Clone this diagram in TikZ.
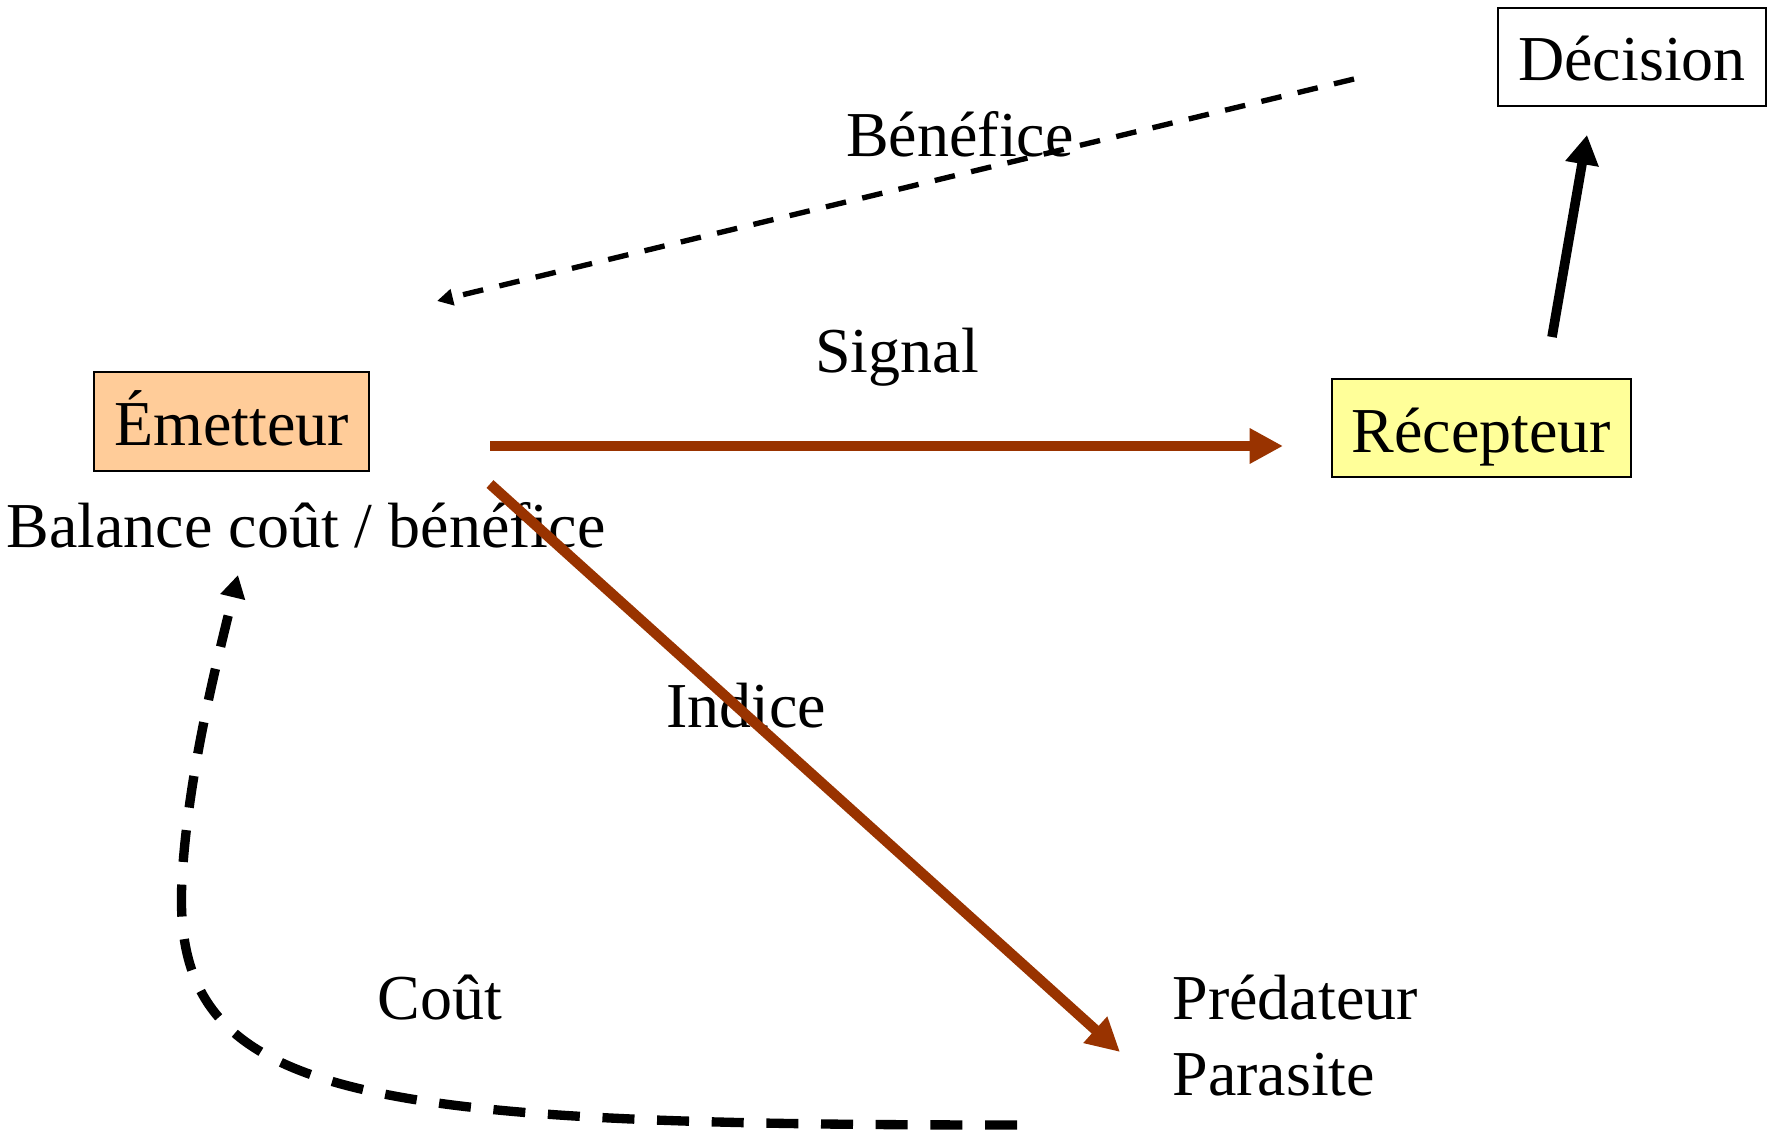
\documentclass[tikz,border=0pt]{standalone}
\usepackage{fontspec}
\setmainfont{Liberation Serif}
\usetikzlibrary{arrows.meta}
\definecolor{brique}{RGB}{153,51,0}
\definecolor{peche}{RGB}{255,204,153}
\definecolor{jaune}{RGB}{255,255,153}
\tikzset{every picture/.style={line width=0.75pt}}
\tikzset{
  grand/.style={font=\fontsize{48}{56}\selectfont},
  boite/.style={draw, line width=1.1pt, inner sep=0pt, grand, text height=45.6pt, text depth=9.6pt},
  texte/.style={inner sep=0pt, anchor=base, grand},
  fleche brique/.style={brique, line width=7.8pt, -{Triangle[length=25pt,width=25pt]}},
  fleche noire/.style={black, line width=7.2pt, -{Triangle[length=22pt,width=24pt]}},
  tirets fins/.style={black, line width=4pt, dash pattern=on 15.5pt off 12.5pt, -{Triangle[length=12pt,width=12pt]}},
  tirets gros/.style={black, line width=7pt, dash pattern=on 24pt off 17pt, -{Triangle[length=17pt,width=18pt]}}
}
\begin{document}
\begin{tikzpicture}[x=0.75pt,y=0.75pt,yscale=-1,xscale=1]
\useasboundingbox (0,0) rectangle (1780,1134);

% Boxes
\node[boite, fill=peche, minimum width=206pt, minimum height=74pt] (emet) at (231.5,421.5) {Émetteur};
\node[boite, fill=jaune, minimum width=224pt, minimum height=73.5pt] (recep) at (1481.5,428) {Récepteur};
\node[boite, minimum width=201pt, minimum height=73.5pt] (decis) at (1632,57) {Décision};

% Text Node
\node[texte] (balance) at (306,547) {Balance coût / bénéfice};
\node[texte] (signal) at (897,372) {Signal};
\node[texte] (benefice) at (960,157) {Bénéfice};
\node[texte] (indice) at (746,727) {Indice};
\node[texte] (cout) at (440,1019) {Coût};
\node[texte, anchor=base west] (predateur) at (1172,1019) {Prédateur};
\node[texte, anchor=base west] (parasite) at (1172,1095) {Parasite};

% Free ends
\coordinate (sigA) at (490,446);
\coordinate (sigB) at (1283,446);
\coordinate (indA) at (490,484);
\coordinate (indB) at (1120,1052);
\coordinate (decA) at (1552,337);
\coordinate (decB) at (1587,135);
\coordinate (benA) at (1354,79);
\coordinate (benB) at (437,301);
\coordinate (coutA) at (1017,1125);
\coordinate (coutM) at (182,880);
\coordinate (coutB) at (238,575);

% Straight Lines
\draw[fleche brique] (sigA) -- (sigB);
\draw[fleche brique] (indA) -- (indB);
\draw[fleche noire] (decA) -- (decB);
\draw[tirets fins] (benA) -- (benB);
% Curve
\draw[tirets gros] (coutA) .. controls (350,1125) and (170,1100) .. (coutM) .. controls (188,770) and (220,650) .. (coutB);

\end{tikzpicture}
\end{document}
